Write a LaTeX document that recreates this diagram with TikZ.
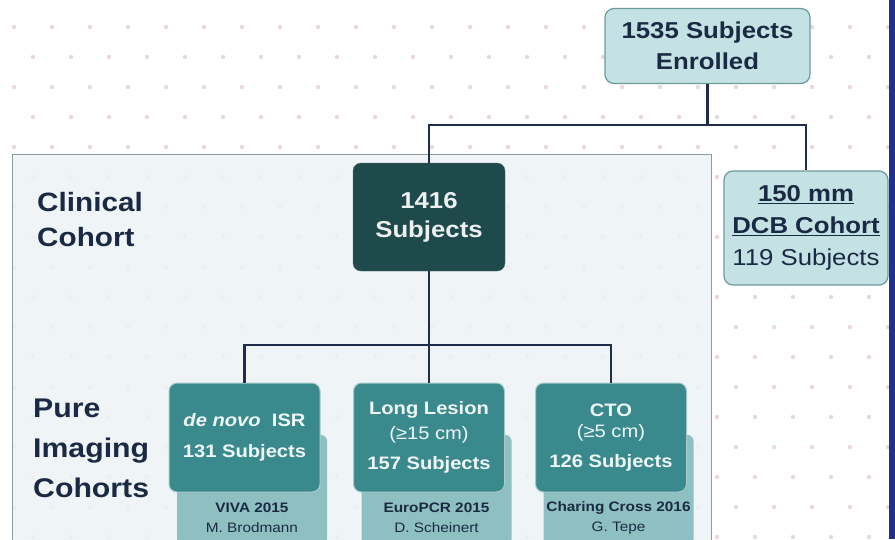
\documentclass[tikz,border=0pt]{standalone}
\usepackage{fontspec}
\setmainfont{Liberation Sans}[FakeStretch=1.12]
\usetikzlibrary{positioning,calc}

\definecolor{inknavy}{HTML}{1B2A44}
\definecolor{wirenavy}{HTML}{1F2C4C}
\definecolor{deepteal}{HTML}{1E4A4B}
\definecolor{midteal}{HTML}{3A8A8D}
\definecolor{paleteal}{HTML}{8FC0C1}
\definecolor{iceteal}{HTML}{C4E2E3}
\definecolor{edgeteal}{HTML}{6E9A9C}
\definecolor{panelfill}{HTML}{EDF3F5}
\definecolor{panelline}{HTML}{8C9C9E}
\definecolor{dotpink}{HTML}{E9D8DB}
\definecolor{sidebar}{HTML}{22308A}

\def\imagingcohorts{%  \cx/\cname/\meeting/\speaker
  244.5/denovo/VIVA 2015/M. Brodmann,%
  429/longlesion/EuroPCR 2015/D. Scheinert,%
  611/cto/Charing Cross 2016/G. Tepe%
}

\begin{document}
\begin{tikzpicture}[x=1pt,y=-1pt,
    every node/.style={inner sep=0pt, align=center},
    countbox/.style={rectangle, rounded corners=9pt, fill=iceteal,
      draw=edgeteal, line width=1.2pt, text=inknavy,
      font=\bfseries\fontsize{23}{31}\selectfont},
    cohortbox/.style={rectangle, rounded corners=8pt, minimum width=151pt,
      minimum height=109pt, fill=midteal, draw=midteal!45!white,
      line width=1pt, text=white!92!midteal},
    meetingbox/.style={rectangle, rounded corners=6pt, minimum width=150pt,
      minimum height=110pt, fill=paleteal},
    meetingtext/.style={text=inknavy, font=\fontsize{13.7}{20}\selectfont},
    rowlabel/.style={anchor=west, align=left, text=inknavy},
    trunk/.style={draw=wirenavy, line width=2.8pt},
    branch/.style={draw=wirenavy, line width=2.2pt}]

  \clip (0,0) rectangle (895,539);
  \fill[white] (0,0) rectangle (895,539);

  % dotted backdrop
  \foreach \row in {0,...,17}{%
    \foreach \col in {0,...,23}{%
      \fill[dotpink] ({14+38*\col+19*mod(\row,2)},{27+30*\row}) circle (2.2pt);
    }%
  }%

  \node[rectangle, draw=panelline, line width=1pt, fill=panelfill,
    fill opacity=0.85, minimum width=699pt, minimum height=420pt,
    anchor=north west] (clinicalpanel) at (12,154) {};

  \fill[sidebar] (889,0) rectangle (895,539);

  % top level
  \node[countbox, minimum width=205pt, minimum height=75pt] (enrolled)
    at (707.5,46) {1535 Subjects\\Enrolled};
  \node[countbox, minimum width=164pt, minimum height=114pt,
    font=\fontsize{23}{32}\selectfont] (dcb)
    at (806,228) {\textbf{\underline{150 mm}}\\\textbf{\underline{DCB Cohort}}\\119 Subjects};
  \node[rectangle, rounded corners=8pt, fill=deepteal, draw=deepteal!80!white,
    minimum width=152pt, minimum height=108pt, text=white!92!deepteal,
    font=\bfseries\fontsize{23}{29}\selectfont] (clinical)
    at (429,217) {1416\\Subjects};

  \node[rowlabel, font=\bfseries\fontsize{26.5}{35}\selectfont] (clinicallabel)
    at (37,219.5) {Clinical\\Cohort};
  \node[rowlabel, font=\bfseries\fontsize{27}{40}\selectfont] (imaginglabel)
    at (33,448) {Pure\\Imaging\\Cohorts};

  % meeting tabs behind the imaging cohorts
  \foreach \cx/\cname/\meeting/\speaker in \imagingcohorts {%
    \node[meetingbox] (\cname tab) at ({\cx+7.5},490) {};
    \node[meetingtext] (\cname talk) at ({\cx+7.5},518)
      {\textbf{\meeting}\\\speaker};
  }%

  \node[cohortbox, font=\bfseries\fontsize{18}{31}\selectfont] (denovo)
    at (244.5,437.5) {\textit{de novo}\ \ ISR\\131 Subjects};
  \node[cohortbox, font=\bfseries\fontsize{18}{25}\selectfont] (longlesion)
    at (429,437.5) {Long Lesion\\{\mdseries (≥15 cm)}\\[5pt]157 Subjects};
  \node[cohortbox, font=\bfseries\fontsize{18}{21}\selectfont] (cto)
    at (611,437.5) {CTO\\{\mdseries (≥5 cm)}\\[9pt]126 Subjects};

  % connectors
  \coordinate (topbar) at (707.5,125);
  \coordinate (lowbar) at (429,345);
  \draw[trunk] (enrolled.south) -- (topbar);
  \draw[trunk] (clinical.north) |- (topbar) -| (dcb.north);
  \draw[trunk] (clinical.south) -- (lowbar);
  \draw[branch] (denovo.north) |- (lowbar) -| (cto.north);
  \draw[branch] (longlesion.north) -- (lowbar);

\end{tikzpicture}
\end{document}
